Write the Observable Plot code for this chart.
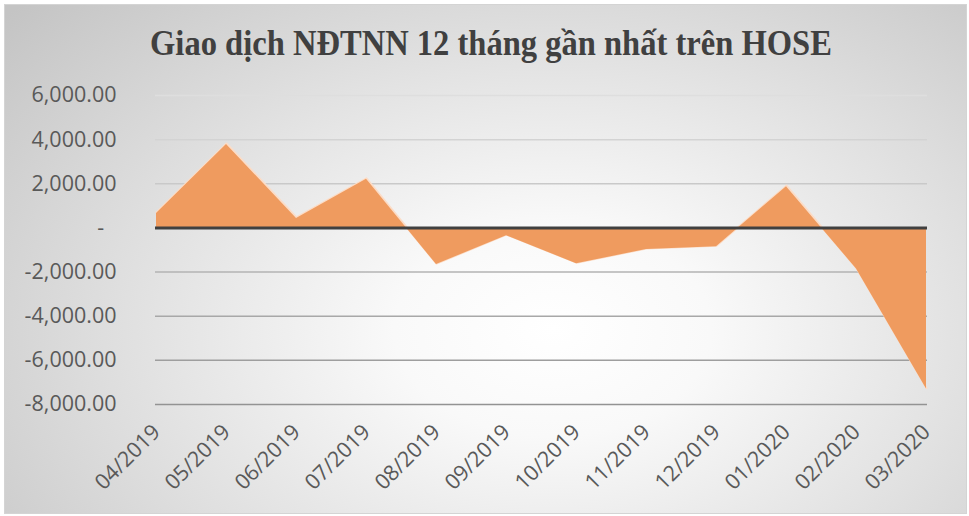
<!DOCTYPE html>
<html>
<head>
<meta charset="utf-8">
<script src="https://cdn.jsdelivr.net/npm/d3@7"></script>
<script src="https://cdn.jsdelivr.net/npm/@observablehq/plot@0.6"></script>
<style>
  html, body { margin: 0; padding: 0; background: #ffffff; }
  #wrap { position: relative; width: 969px; height: 516px; overflow: hidden; }
  #panel {
    position: absolute; left: 4px; top: 4px; width: 963px; height: 510px;
    box-sizing: border-box; border: 1px solid #d4d4d4;
    background: radial-gradient(ellipse 75% 95% at 57% 64%, #ffffff 0%, #f9f9f9 22%, #e3e3e3 55%, #c4c4c4 100%);
  }
  #title {
    position: absolute; left: 6px; width: 969px; top: 24px; text-align: center;
    font-family: "Liberation Serif", serif; font-weight: bold; font-size: 35px;
    color: #404040; transform: scaleX(0.93); transform-origin: 491px 0;
    white-space: nowrap;
  }
  #chart { position: absolute; left: 0; top: 0; }
  #chart svg { background: transparent; overflow: visible; }
</style>
</head>
<body>
<div id="wrap">
  <div id="panel"></div>
  <div id="title">Giao dịch NĐTNN 12 tháng gần nhất trên HOSE</div>
  <div id="chart"></div>
</div>
<script>
const months = ["04/2019","05/2019","06/2019","07/2019","08/2019","09/2019","10/2019","11/2019","12/2019","01/2020","02/2020","03/2020"];
const netValues = [650, 3780, 430, 2200, -1660, -350, -1620, -980, -850, 1870, -1860, -7300];
const yTicks = [-8000, -6000, -4000, -2000, 0, 2000, 4000, 6000];

const data = months.map((m, i) => ({month: m, value: netValues[i]}));
const gridTicks = yTicks.filter(t => t !== 0);
const gridColor = d3.scaleLinear().domain([6000, -8000]).range(["#dedede", "#939393"]);
const fmt = d3.formatLocale({decimal: ".", thousands: ",", grouping: [3], currency: ["", ""], minus: "-"}).format(",.2f");

const chart = Plot.plot({
  width: 969,
  height: 516,
  marginLeft: 155,
  marginRight: 42,
  marginTop: 95,
  marginBottom: 112,
  style: {fontFamily: "'Open Sans'", fontSize: "21.5px", color: "#595959", background: "transparent"},
  x: {type: "point", domain: months, padding: 0, label: null},
  y: {domain: [-8000, 6000], label: null},
  marks: [
    Plot.ruleY(gridTicks, {stroke: d => gridColor(d), strokeWidth: 1.5}),
    Plot.line(data, {x: "month", y: "value", stroke: "#fcdcc6", strokeWidth: 2, dy: -1}),
    Plot.areaY(data, {x: "month", y: "value", fill: "#ef9b5f"}),
    Plot.ruleY([0], {stroke: "#404040", strokeWidth: 3}),
    Plot.axisY({ticks: yTicks, tickSize: 0, tickPadding: 39, fill: "#595959",
      fontSize: 21.5,
      tickFormat: d => d === 0 ? "-\u2007" : fmt(d), label: null}),
    Plot.axisX({tickSize: 0, tickPadding: 24, tickRotate: -45, fill: "#595959",
      fontSize: 21.5, label: null})
  ]
});
document.getElementById("chart").appendChild(chart);
</script>
</body>
</html>
